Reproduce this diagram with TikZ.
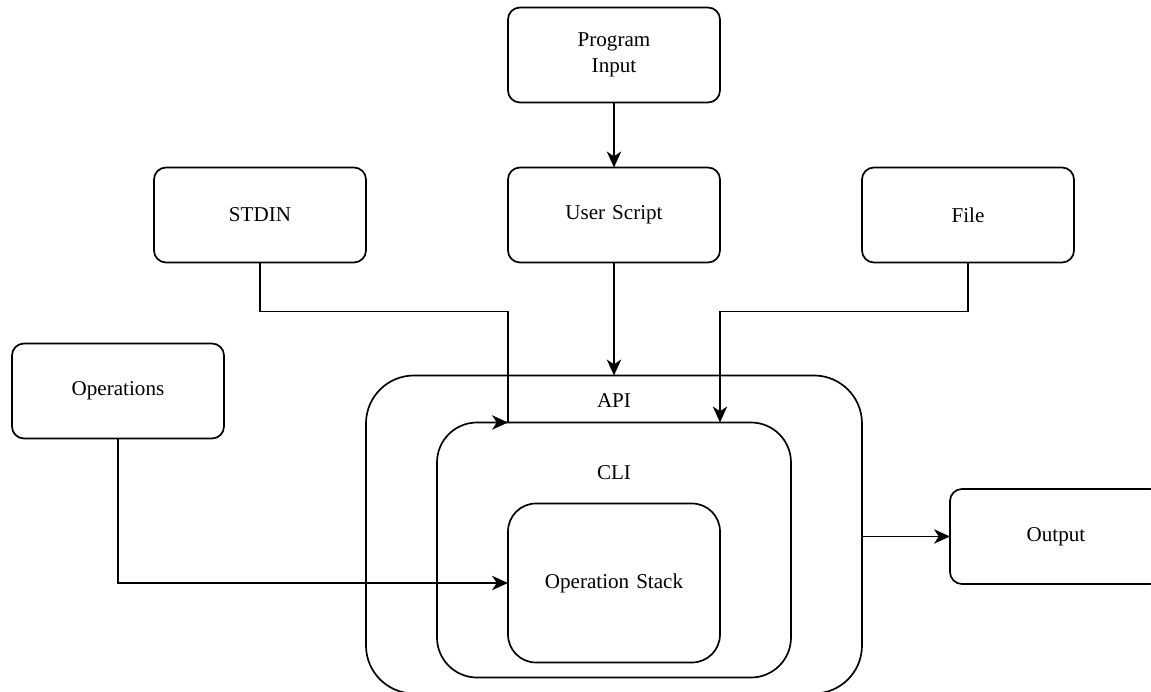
\documentclass[tikz,border=0pt]{standalone}
\usepackage{fontspec}
\setmainfont{Liberation Serif}
\usetikzlibrary{arrows.meta, positioning}
\tikzstyle{arrow} = [-{Stealth[length=0.4cm, width=0.36cm, inset=0.12cm]}, draw=black]
\tikzstyle{box} = [draw, text width=5.3cm, minimum height=2.375cm, rounded corners=0.3cm]
\tikzstyle{layer} = [draw, minimum width=8.85cm, minimum height=6.375cm, rounded corners=1cm]

\begin{document}
\begin{tikzpicture}[rectangle, node distance=1.625cm, text centered, outer sep=0pt, inner sep=0pt, line width=1.2pt, draw=black, font=\fontsize{15}{18.4}\selectfont]
	\useasboundingbox (-15.35,5.375) rectangle (13.425,-11.925);
	% INPUTS
	\node (user) [box] {User Script};
	\node (prog) [above = of user, box] {Program\\Input};
	\node (stdin) [left = 3.55cm of user, box] {STDIN};
	\node (file) [right = 3.55cm of user, box] {File};
	\node (ops) [below = 2.025cm of stdin, xshift=-3.55cm, box] {Operations};

	% LAYERS
	\node (api) [below = 2.825cm of user, layer, minimum width=12.4cm, minimum height=7.95cm, rounded corners=1.2cm] {};
	\node (cli) [below = 1.175cm of api.north, layer] {};
	\node (stack) [below = 2.025cm of cli.north, box, minimum height=3.975cm, rounded corners=0.7cm] {Operation Stack};
	\node (apilabel) at ([yshift=-0.625cm]api.north) {API};
	\node (clilabel) at ([yshift=-1.25cm]cli.north) {CLI};

	\node (output) [right = 2.2cm of api, yshift=-0.05cm, box] {Output};

	\coordinate (stdinin) at (user.west |- cli.north);
	\coordinate (filein) at (user.east |- cli.north);

	\draw [arrow] (prog) -- (user);
	\draw [arrow] (user) -- (api);
	\draw (stdin.south) -- ++(0,-1.225) -| (stdinin);
	\draw [arrow] ([xshift=-0.4cm]stdinin) -- (stdinin);
	\draw [arrow] (file.south) -- ++(0,-1.225) -| (filein);
	\draw [arrow] (ops.south) |- (stack.west);
	\draw [arrow] (api.east |- output.west) -- (output.west);
\end{tikzpicture}
\end{document}
